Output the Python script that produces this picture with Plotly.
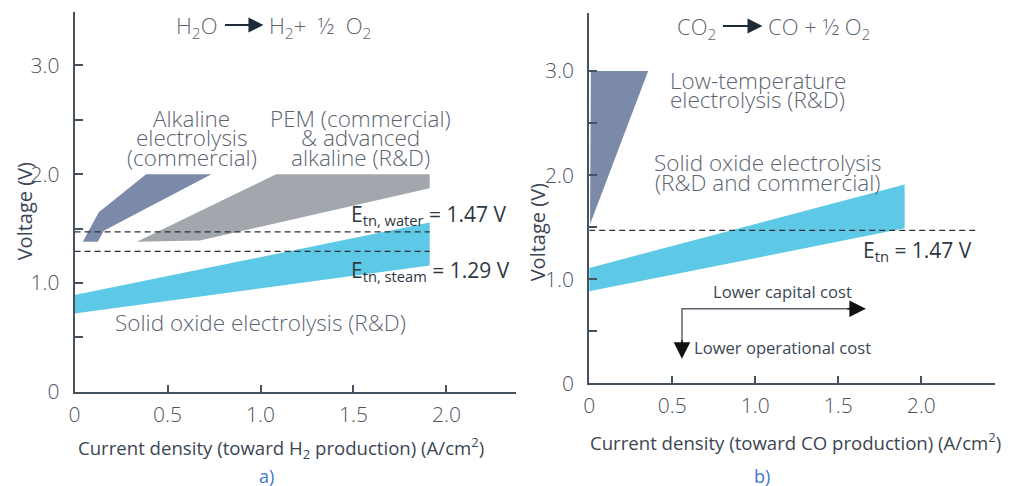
import plotly.graph_objects as go

W, H = 1010, 486          # picture size the positions below are given in
LAYOUT_H = 500            # figure height handed to plotly

# ---- panel a) water electrolysis (current density A/cm2, voltage V) ----
alk_x = [0.044, 0.130, 0.385, 0.736, 0.157, 0.125]
alk_v = [1.38, 1.65, 2.00, 2.00, 1.48, 1.38]

pem_x = [0.335, 0.674, 1.91, 1.91, 1.084]
pem_v = [1.38, 1.39, 1.87, 2.00, 2.00]

soe_a_x = [0.0, 1.91, 1.91, 0.0]
soe_a_v = [0.89, 1.555, 1.16, 0.72]

e_water = 1.47
e_steam = 1.29
e_line_a_x = [0.0, 1.91]

# ---- panel b) CO2 electrolysis ----
lt_x = [0.01, 0.355, 0.005]
lt_v = [3.0, 3.0, 1.53]

soe_b_x = [0.0, 1.90, 1.90, 0.0]
soe_b_v = [1.11, 1.91, 1.49, 0.885]

e_co2 = 1.47
e_line_b_x = [0.0, 2.34]

x_ticks = [0, 0.5, 1.0, 1.5, 2.0]
x_tick_text = ["0", "0.5", "1.0", "1.5", "2.0"]
y_ticks = [0, 1, 2, 3]
y_tick_text = ["0", "1.0", "2.0", "3.0"]
y_minor = [0.5, 1.5, 2.5]

SLATE = "#7b8aa9"
GREY = "#a1a7ac"
CYAN = "#5ec9e6"
AXIS = "#46525e"
TXT = "#5b6570"
DARK = "#2e3842"
FONT = "Open Sans"
NB = "\u00a0"


def pp(px, py):
    """pixel position -> paper coordinates"""
    return px / W, 1 - py / H


fig = go.Figure()


def poly(x, v, color, xa, ya):
    fig.add_trace(go.Scatter(x=x + x[:1], y=v + v[:1], fill="toself", fillcolor=color,
                             mode="lines", line=dict(width=0, color=color),
                             xaxis=xa, yaxis=ya, hoverinfo="skip", showlegend=False))


def dashed(x, v, xa, ya):
    fig.add_trace(go.Scatter(x=x, y=[v, v], mode="lines",
                             line=dict(color="#2a3038", width=1.2, dash="6px,4px"),
                             xaxis=xa, yaxis=ya, hoverinfo="skip", showlegend=False))


poly(alk_x, alk_v, SLATE, "x", "y")
poly(pem_x, pem_v, GREY, "x", "y")
poly(soe_a_x, soe_a_v, CYAN, "x", "y")
dashed(e_line_a_x, e_water, "x", "y")
dashed(e_line_a_x, e_steam, "x", "y")

poly(lt_x, lt_v, SLATE, "x2", "y2")
poly(soe_b_x, soe_b_v, CYAN, "x2", "y2")
dashed(e_line_b_x, e_co2, "x2", "y2")

tickfont = dict(family=FONT, size=21, color="#4a5561", weight=300)


def xax(domain, rng, anchor, standoff):
    return dict(domain=domain, range=rng, anchor=anchor, tickvals=x_ticks, ticktext=x_tick_text,
                ticks="inside", ticklen=7, tickwidth=2, tickcolor=AXIS, showline=True,
                linewidth=2, linecolor=AXIS, showgrid=False, zeroline=False,
                tickfont=tickfont, ticklabelstandoff=standoff, fixedrange=True)


def yax(domain, rng, anchor):
    return dict(domain=domain, range=rng, anchor=anchor, tickvals=y_ticks, ticktext=y_tick_text,
                ticks="inside", ticklen=8, tickwidth=2, tickcolor=AXIS, showline=True,
                linewidth=2, linecolor=AXIS, showgrid=False, zeroline=False,
                minor=dict(tickvals=y_minor, ticks="inside", ticklen=8, tickwidth=2,
                           tickcolor=AXIS, showgrid=False),
                tickfont=tickfont, ticklabelstandoff=9, fixedrange=True)


fig.update_layout(
    width=W, height=LAYOUT_H, autosize=False, margin=dict(l=0, r=0, t=0, b=0, pad=0),
    paper_bgcolor="white", plot_bgcolor="white", showlegend=False,
    xaxis=xax([69 / W, 513 / W], [0, 2.374], "y", 3),
    yaxis=yax([1 - 391 / H, 1 - 12 / H], [0, 3.49], "x"),
    xaxis2=xax([586.7 / W, 995 / W], [0, 2.445], "y2", 2),
    yaxis2=yax([1 - 382.7 / H, 1 - 13.3 / H], [0, 3.555], "x2"),
)

ann = []


def label(text, px, py, size=22.5, color=TXT, xanchor="center", weight=300, angle=0):
    x, y = pp(px, py)
    ann.append(dict(text=text, x=x, y=y, xref="paper", yref="paper", showarrow=False,
                    xanchor=xanchor, yanchor="middle", textangle=angle,
                    font=dict(family=FONT, size=size, color=color, weight=weight)))


def arrow(tip_px, tip_py, dx, dy, color, width, size):
    x, y = pp(tip_px, tip_py)
    ann.append(dict(text="", x=x, y=y, xref="paper", yref="paper", showarrow=True,
                    ax=dx, ay=dy, axref="pixel", ayref="pixel", arrowhead=2,
                    arrowsize=size, arrowwidth=width, arrowcolor=color, standoff=0))


# reaction headers
label("H<sub>2</sub>O", 214, 27, size=22, xanchor="right")
arrow(259, 25, -40, 0, "#1e2a36", 2, 1.5)
label(f"H<sub>2</sub>+{NB}{NB}½{NB}{NB}O<sub>2</sub>", 263, 27, size=22, xanchor="left")

label("CO<sub>2</sub>", 716, 28, size=22, xanchor="right")
arrow(761, 26, -41, 0, "#1e2a36", 2, 1.5)
label("CO + ½ O<sub>2</sub>", 765, 28, size=22, xanchor="left")

# technology labels, panel a
for t, yy in zip(["Alkaline", "electrolysis", "(commercial)"], [118, 137, 157]):
    label(t, 187, yy)
for t, yy in zip(["PEM (commercial)", "& advanced", "alkaline (R&D)"], [118, 137, 157]):
    label(t, 357, yy)
label("Solid oxide electrolysis (R&D)", 256, 322)

label("E<sub>tn, water</sub> = 1.47 V", 345, 215, size=21, color=DARK, xanchor="left", weight=400)
label("E<sub>tn, steam</sub> = 1.29 V", 345, 270, size=21, color=DARK, xanchor="left", weight=400)

# technology labels, panel b
label("Low-temperature", 666, 80, xanchor="left")
label("electrolysis (R&D)", 666, 99, xanchor="left")
label("Solid oxide electrolysis", 766, 162)
label("(R&D and commercial)", 766, 182)
label("E<sub>tn</sub> = 1.47 V", 860, 250, size=21, color=DARK, xanchor="left", weight=400)

# cost direction arrows
label("Lower capital cost", 781, 291, size=16.6, color="#3a4654", weight=400)
label("Lower operational cost", 690, 347, size=16.6, color="#3a4654", xanchor="left", weight=400)
arrow(865, 308, -20, 0, "#111111", 1.5, 2.2)
arrow(680, 358, 0, -20, "#111111", 1.5, 2.2)

# axis titles and panel tags
label("Voltage (V)", 19, 211, size=20, color="#3a4654", weight=400, angle=-90)
label("Voltage (V)", 535, 232, size=20, color="#3a4654", weight=400, angle=-90)
label("Current density (toward H<sub>2</sub> production) (A/cm<sup>2</sup>)", 277, 447,
      size=18.6, color="#3a4654", weight=400)
label("Current density (toward CO production) (A/cm<sup>2</sup>)", 794, 441,
      size=18.6, color="#3a4654", weight=400)
label("a)", 262, 475, size=18, color="#3f78d0", weight=400)
label("b)", 761, 475, size=18, color="#3f78d0", weight=400)

x0, y0 = pp(680, 350)
x1, y1 = pp(680, 308)
x2, y2 = pp(850, 308)
shapes = [dict(type="path", xref="paper", yref="paper",
               path=f"M {x0},{y0} L {x1},{y1} L {x2},{y2}",
               line=dict(color="#5a636c", width=1.5))]

fig.update_layout(annotations=ann, shapes=shapes)
fig.write_html("out.html")
